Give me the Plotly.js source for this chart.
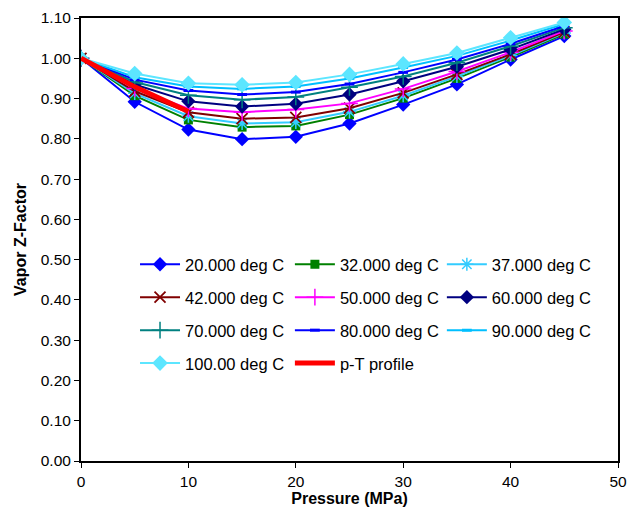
<!DOCTYPE html>
<html>
<head>
<meta charset="utf-8">
<script src="https://cdn.plot.ly/plotly-3.0.1.min.js"></script>
<style>html,body{margin:0;padding:0;background:#fff;}#chart{width:632px;height:512px;}</style>
</head>
<body>
<div id="chart"></div>
<script>
// Pressure (MPa)
var pressure = [0, 5, 10, 15, 20, 25, 30, 35, 40, 45];
// Vapor Z-factor for each isotherm
var z20  = [1.000, 0.892, 0.823, 0.799, 0.805, 0.838, 0.885, 0.935, 0.997, 1.055];
var z32  = [1.000, 0.907, 0.847, 0.829, 0.832, 0.860, 0.901, 0.950, 1.003, 1.060];
var z37  = [1.000, 0.913, 0.856, 0.838, 0.841, 0.867, 0.907, 0.955, 1.007, 1.063];
var z42  = [1.000, 0.918, 0.866, 0.850, 0.853, 0.876, 0.914, 0.960, 1.010, 1.065];
var z50  = [1.000, 0.925, 0.875, 0.866, 0.873, 0.888, 0.924, 0.967, 1.015, 1.068];
var z60  = [1.000, 0.935, 0.893, 0.880, 0.887, 0.910, 0.943, 0.979, 1.022, 1.072];
var z70  = [1.000, 0.941, 0.908, 0.897, 0.904, 0.928, 0.955, 0.989, 1.030, 1.076];
var z80  = [1.000, 0.947, 0.920, 0.910, 0.916, 0.936, 0.965, 0.997, 1.036, 1.080];
var z90  = [1.000, 0.953, 0.930, 0.924, 0.930, 0.950, 0.977, 1.006, 1.044, 1.085];
var z100 = [1.000, 0.962, 0.938, 0.934, 0.940, 0.960, 0.986, 1.013, 1.051, 1.089];
// p-T profile
var ptPressure = [0, 5, 10];
var ptZ = [1.000, 0.929, 0.868];

var seriesNames = ['20.000 deg C','32.000 deg C','37.000 deg C','42.000 deg C','50.000 deg C',
                   '60.000 deg C','70.000 deg C','80.000 deg C','90.000 deg C','100.00 deg C'];
var seriesData = [z20, z32, z37, z42, z50, z60, z70, z80, z90, z100];

var styles = [
  {c:'#0000FF', s:'diamond', sz:11, lw:0},
  {c:'#008000', s:'square', sz:9, lw:0},
  {c:'#33CCFF', s:'asterisk-open', sz:11, lw:1.5},
  {c:'#800000', s:'x-thin-open', sz:11, lw:1.8},
  {c:'#FF00FF', s:'cross-thin-open', sz:12, lw:1.5},
  {c:'#000080', s:'diamond', sz:11, lw:0},
  {c:'#008080', s:'cross-thin-open', sz:12, lw:1.5},
  {c:'#0000FF', s:'line-ew-open', sz:7, lw:3},
  {c:'#00BFFF', s:'line-ew-open', sz:7, lw:3},
  {c:'#5CE6FF', s:'diamond', sz:12, lw:0}
];
// legend columns: col 1 = legend, col 2 = legend2, col 3 = legend3
var legendOf = ['legend','legend2','legend3','legend','legend2','legend3','legend','legend2','legend3','legend'];

var traces = [];
for (var i = 0; i < seriesData.length; i++) {
  var st = styles[i];
  traces.push({
    x: pressure, y: seriesData[i], name: seriesNames[i], type: 'scatter', mode: 'lines+markers',
    line: {color: st.c, width: 2},
    marker: {symbol: st.s, size: st.sz, color: st.c, line: {color: st.c, width: st.lw}},
    legend: legendOf[i], legendgroup: 'g' + i
  });
}
traces.push({
  x: ptPressure, y: ptZ, name: 'p-T profile', type: 'scatter', mode: 'lines',
  line: {color: '#FF0000', width: 5}, legend: 'legend2', legendgroup: 'gpt'
});

var FONT = 'Liberation Sans, Arial, sans-serif';
function leg(x) {
  return {orientation: 'v', x: x, xanchor: 'left', y: 0.483, yanchor: 'top',
          bgcolor: 'rgba(0,0,0,0)', tracegroupgap: 8.5,
          font: {family: FONT, size: 16.5, color: '#000'},
          itemwidth: 40, traceorder: 'grouped'};
}

var axisFont = {family: FONT, size: 15.5, color: '#000'};
var layout = {
  width: 632, height: 512,
  margin: {l: 81, r: 14, t: 18, b: 51},
  paper_bgcolor: '#fff', plot_bgcolor: '#fff',
  showlegend: true,
  xaxis: {range: [0, 50], dtick: 10, tick0: 0, showgrid: false, zeroline: false,
          showline: true, linecolor: '#000', linewidth: 2, mirror: true,
          ticks: 'outside', ticklen: 5, tickwidth: 1, tickcolor: '#000', tickfont: axisFont,
          title: {text: '<b>Pressure (MPa)</b>', font: {family: FONT, size: 16, color: '#000'}, standoff: 2}},
  yaxis: {range: [0, 1.10], dtick: 0.1, tick0: 0, tickformat: '.2f', showgrid: false, zeroline: false,
          showline: true, linecolor: '#000', linewidth: 2, mirror: true,
          ticks: 'outside', ticklen: 5, tickwidth: 1, tickcolor: '#000', tickfont: axisFont,
          title: {text: '<b>Vapor Z-Factor</b>', font: {family: FONT, size: 16, color: '#000'}, standoff: 10}},
  xaxis2: {overlaying: 'x', anchor: 'y', side: 'bottom', range: [0, 50], dtick: 10, tick0: 0,
           showgrid: false, zeroline: false, showline: false, showticklabels: false,
           ticks: 'inside', ticklen: 5, tickwidth: 1, tickcolor: '#000'},
  yaxis2: {overlaying: 'y', anchor: 'x', side: 'left', range: [0, 1.10], dtick: 0.1, tick0: 0,
           showgrid: false, zeroline: false, showline: false, showticklabels: false,
           ticks: 'inside', ticklen: 5, tickwidth: 1, tickcolor: '#000'},
  legend: leg(0.1006),
  legend2: leg(0.389),
  legend3: leg(0.672)
};

Plotly.newPlot('chart', traces, layout, {displayModeBar: false, staticPlot: true});
</script>
</body>
</html>
